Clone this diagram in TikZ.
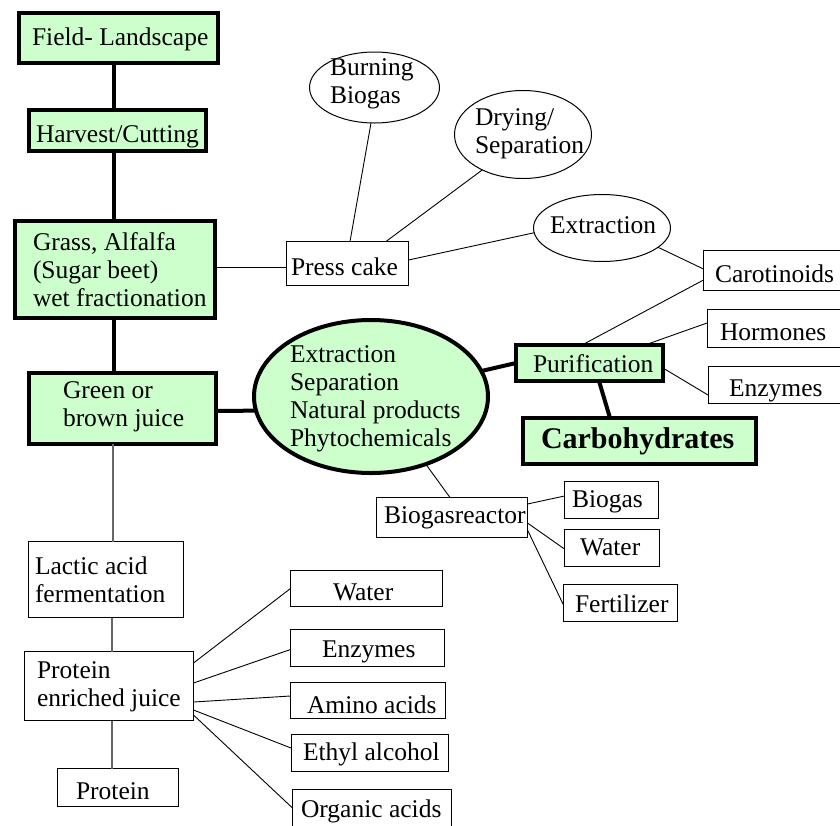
\documentclass[tikz,border=0pt]{standalone}
\usepackage{fontspec}
\setmainfont{Liberation Serif}
\usetikzlibrary{shapes.geometric}
\definecolor{lg}{HTML}{CCFFCC}
\newcommand\mytxt[2]{\makebox[0pt][l]{\hspace*{#1}#2}}
\newcommand\mytab[1]{\begin{tabular}[t]{@{}l@{}}#1\end{tabular}}
\tikzset{
 every node/.style={font=\fontsize{25.5}{28}\selectfont, inner sep=0pt, outer sep=0pt},
 gbox/.style={draw, line width=4pt, fill=lg, rectangle},
 wbox/.style={draw, line width=1pt, fill=white, rectangle},
 gell/.style={draw, line width=4pt, fill=lg, ellipse},
 well/.style={draw, line width=1pt, fill=white, ellipse},
 heavy/.style={line width=4pt},
 light/.style={line width=0.9pt},
 grayl/.style={line width=1.2pt, draw=black!60},
 sz/.style 2 args={minimum width=#1, minimum height=#2},
 tb/.style 2 args={text height=#1, text depth=#2},
}
\begin{document}
\begin{tikzpicture}[x=1pt,y=-1pt]
\useasboundingbox (0,0) rectangle (840,825);
\fill[white] (0,0) rectangle (840,825);
\clip (0,0) rectangle (840,825);

% left column
\node[gbox, sz={199pt}{50pt}, tb={14pt}{0pt}] (field) at (118.5,38) {\mytxt{-86.5pt}{Field- Landscape}};
\node[gbox, sz={177pt}{41pt}, tb={23pt}{0pt}] (harvest) at (117.5,130.5) {\mytxt{-81.5pt}{Harvest/Cutting}};
\node[gbox, sz={200pt}{97pt}, tb={1pt}{40pt}] (grass) at (115,269.5) {\mytxt{-82pt}{\mytab{Grass, Alfalfa\\(Sugar beet)\\wet fractionation}}};
\node[gbox, sz={187pt}{71pt}, tb={1pt}{22pt}] (green) at (122.5,408.5) {\mytxt{-59.5pt}{\mytab{Green or\\brown juice}}};
\node[wbox, sz={155pt}{76pt}, tb={1pt}{12pt}] (lactic) at (106,579.5) {\mytxt{-71pt}{\mytab{Lactic acid\\fermentation}}};
\node[wbox, sz={169pt}{69pt}, tb={1pt}{16.4pt}] (pej) at (109,686) {\mytxt{-72pt}{\mytab{Protein\\enriched juice}}};
\node[wbox, sz={121pt}{38pt}, tb={23.6pt}{0pt}] (protein) at (118,787.5) {\mytxt{-42pt}{Protein}};

% press cake branch
\node[wbox, sz={122pt}{44pt}, tb={23pt}{0pt}] (press) at (347.5,263.5) {\mytxt{-56.5pt}{Press cake}};
\node[well, sz={130pt}{71pt}, tb={1pt}{26pt}] (burn) at (374.5,87.5) {\mytxt{-44.5pt}{\mytab{Burning\\Biogas}}};
\node[well, sz={137pt}{88pt}, tb={1pt}{20pt}] (dry) at (523,134.5) {\mytxt{-48pt}{\mytab{Drying/\\Separation}}};
\node[well, sz={137pt}{67pt}, tb={10pt}{0pt}] (extr) at (602,228) {\mytxt{-52pt}{Extraction}};

% central ellipse and right side
\node[gell, sz={234pt}{153pt}, tb={1pt}{70pt}] (ext) at (371,396.5) {\mytxt{-81pt}{\mytab{Extraction\\Separation\\Natural products\\Phytochemicals}}};
\node[gbox, sz={147pt}{36pt}, tb={18pt}{0pt}] (purif) at (589.5,363) {\mytxt{-56.5pt}{Purification}};
\node[gbox, sz={233pt}{46pt}, tb={14pt}{0pt}, font=\fontsize{30}{34}\selectfont\bfseries] (carbo) at (639.5,441) {\mytxt{-98.5pt}{Carbohydrates}};
\node[wbox, sz={138.5pt}{40pt}, tb={24pt}{0pt}] (carot) at (772.75,270.5) {\mytxt{-57.75pt}{Carotinoids}};
\node[wbox, sz={135pt}{38pt}, tb={24pt}{0pt}] (horm) at (774.5,328) {\mytxt{-54.5pt}{Hormones}};
\node[wbox, sz={134pt}{37pt}, tb={24.4pt}{0pt}] (enzR) at (775,384.5) {\mytxt{-46pt}{Enzymes}};

% biogas reactor
\node[wbox, sz={151pt}{40pt}, tb={12pt}{0pt}] (bioreact) at (452,517.5) {\mytxt{-68pt}{Biogasreactor}};
\node[wbox, sz={94pt}{37pt}, tb={14pt}{0pt}] (biogas) at (611.5,500) {\mytxt{-39.5pt}{Biogas}};
\node[wbox, sz={95pt}{37pt}, tb={14pt}{0pt}] (waterR) at (612,548) {\mytxt{-32pt}{Water}};
\node[wbox, sz={114pt}{37pt}, tb={18pt}{0pt}] (fert) at (620.5,603) {\mytxt{-45.5pt}{Fertilizer}};

% protein juice products
\node[wbox, sz={152pt}{36pt}, tb={23pt}{0pt}] (waterL) at (366.5,588.5) {\mytxt{-33.5pt}{Water}};
\node[wbox, sz={154pt}{37pt}, tb={18.6pt}{0pt}] (enzL) at (367.5,648) {\mytxt{-45.5pt}{Enzymes}};
\node[wbox, sz={155pt}{36pt}, tb={25pt}{0pt}] (amino) at (368,700.5) {\mytxt{-61pt}{Amino acids}};
\node[wbox, sz={157pt}{37pt}, tb={15pt}{0pt}] (ethyl) at (369.5,753) {\mytxt{-66.5pt}{Ethyl alcohol}};
\node[wbox, sz={159pt}{42pt}, tb={13.6pt}{0pt}] (organic) at (372,810.5) {\mytxt{-71pt}{Organic acids}};

% heavy connectors
\draw[heavy] ([xshift=-5pt]field.south) -- ([xshift=-4pt]harvest.north);
\draw[heavy] ([xshift=-4pt]harvest.south) -- ([xshift=-1.5pt]grass.north);
\draw[heavy] ([xshift=-1.5pt]grass.south) -- ([xshift=-9pt]green.north);
\draw[heavy] ([yshift=-2.5pt]green.east) -- (ext.187);
\draw[heavy] (ext.13) -- (purif.west);
\draw[heavy] ([xshift=9.5pt]purif.south) -- ([xshift=-29.5pt]carbo.north);

% thin connectors
\draw[light] ([yshift=2.5pt]grass.east) -- ([yshift=-3.5pt]press.west);
\draw[light] ([xshift=-3.5pt]burn.south) -- ([xshift=2.5pt]press.north);
\draw[light] (dry.221) -- ([xshift=38.5pt]press.north);
\draw[light] (extr.184) -- ([yshift=3.5pt]press.east);
\draw[light] (extr.-19) -- ([yshift=1.5pt]carot.west);
\draw[light] ([xshift=-7.5pt]purif.north) -- ([yshift=-9.5pt]carot.west);
\draw[light] ([xshift=55.5pt]purif.north) -- ([yshift=5pt]horm.west);
\draw[light] ([yshift=-5pt]purif.east) -- ([yshift=-10.5pt]enzR.west);
\draw[light] (ext.-51) -- ([xshift=-2pt]bioreact.north);
\draw[light] ([yshift=13.5pt]bioreact.east) -- ([yshift=4pt]biogas.west);
\draw[light] ([yshift=-5.5pt]bioreact.east) -- ([yshift=-1pt]waterR.west);
\draw[light] ([yshift=-12.5pt]bioreact.east) -- ([yshift=-2pt]fert.west);

\draw[grayl] ([xshift=-9.5pt]green.south) -- ([xshift=7pt]lactic.north);
\draw[grayl] ([xshift=6pt]lactic.south) -- ([xshift=3pt]pej.north);
\draw[grayl] ([xshift=3pt]pej.south) -- ([xshift=-6pt]protein.north);

\draw[light] ([yshift=23pt]pej.east) -- (waterL.west);
\draw[light] ([yshift=3pt]pej.east) -- ([yshift=-1.5pt]enzL.west);
\draw[light] ([yshift=-16pt]pej.east) -- ([yshift=4.5pt]amino.west);
\draw[light] ([yshift=-24pt]pej.east) -- ([yshift=5pt]ethyl.west);
\draw[light] ([yshift=-29pt]pej.east) -- ([yshift=2.5pt]organic.west);
\end{tikzpicture}
\end{document}
